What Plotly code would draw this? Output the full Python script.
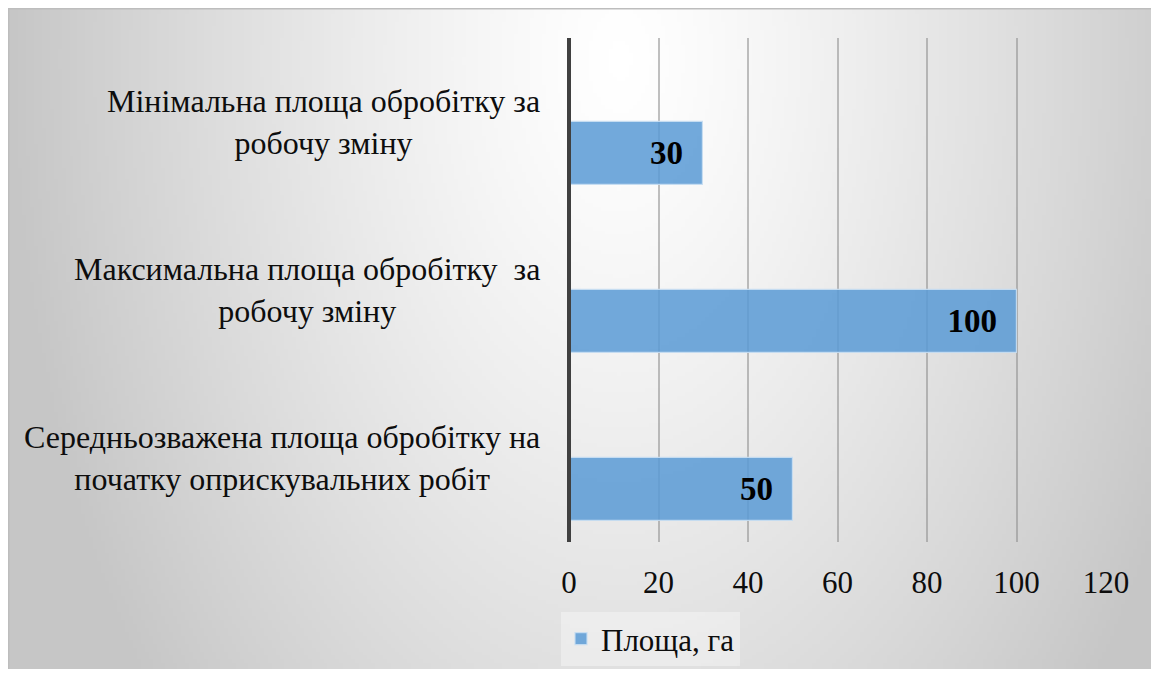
import base64, struct, zlib
import plotly.graph_objects as go

# ---- data ----
categories = [
    "Середньозважена площа обробітку на<br>початку оприскувальних робіт",
    "Максимальна площа обробітку  за<br>робочу зміну",
    "Мінімальна площа обробітку за<br>робочу зміну",
]
values = [50, 100, 30]
series_name = "Площа, га"
x_ticks = [0, 20, 40, 60, 80, 100, 120]

OFF = 8  # page body margin
W, H = 1159 - 2 * OFF, 677 - 2 * OFF
L, R, T, B = 569 - OFF, 1106 - OFF, 38 - OFF, 542 - OFF  # plot area in figure px
PW, PH = R - L, B - T

def px2x(px):
    return (px - L) / PW

def py2y(py):
    return (B - py) / PH

# ---- radial gradient background (styling only) ----
def make_png(w, h, box):
    x0, y0, x1, y1 = box
    cx, cy, A, Bv = 612.0, 52.0, 610.0, 1000.0
    raw = bytearray()
    for j in range(h):
        raw.append(0)
        py = y0 + (j + 0.5) * (y1 - y0) / h
        for i in range(w):
            px = x0 + (i + 0.5) * (x1 - x0) / w
            d = (((px - cx) / A) ** 2 + ((py - cy) / Bv) ** 2) ** 0.5
            d = min(d, 1.0)
            v = int(round(255 - 57 * d ** 1.25))
            raw += bytes((v, v, v))
    def chunk(t, data):
        c = struct.pack(">I", len(data)) + t + data
        return c + struct.pack(">I", zlib.crc32(t + data) & 0xffffffff)
    png = b"\x89PNG\r\n\x1a\n"
    png += chunk(b"IHDR", struct.pack(">IIBBBBB", w, h, 8, 2, 0, 0, 0))
    png += chunk(b"IDAT", zlib.compress(bytes(raw), 9))
    png += chunk(b"IEND", b"")
    return "data:image/png;base64," + base64.b64encode(png).decode()

box = (0, 0, W, H)
bg = make_png(288, 168, box)

font_family = "Liberation Serif"

fig = go.Figure()
fig.add_trace(go.Bar(
    x=values, y=categories, orientation="h", name=series_name,
    width=0.375, offset=-0.375,
    marker=dict(color="rgba(91,155,213,0.86)",
                line=dict(color="rgba(200,222,242,0.9)", width=1.2)),
    text=[f"<b>{v}</b>&nbsp;&nbsp;" for v in values],
    textposition="inside", insidetextanchor="end", textangle=0,
    constraintext="none",
    textfont=dict(family=font_family, size=33, color="#000000"),
    hoverinfo="x",
))

# category labels as centered multi-line annotations
for c in categories:
    fig.add_annotation(
        x=0, xref="paper", xanchor="right", xshift=-27,
        y=c, yref="y", yanchor="middle",
        text=c, showarrow=False, align="center",
        font=dict(family=font_family, size=32, color="#0d0d0d"),
    )

fig.add_layout_image(
    source=bg, xref="paper", yref="paper",
    x=px2x(box[0]), y=py2y(box[1]),
    sizex=px2x(box[2]) - px2x(box[0]), sizey=py2y(box[1]) - py2y(box[3]),
    xanchor="left", yanchor="top", sizing="stretch", layer="below",
)
# thin frame on top and left
fig.add_shape(type="line", xref="paper", yref="paper",
              x0=px2x(0), x1=px2x(W), y0=py2y(0.75), y1=py2y(0.75),
              line=dict(color="#bdbdbd", width=1.5))
fig.add_shape(type="line", xref="paper", yref="paper",
              x0=px2x(0.75), x1=px2x(0.75), y0=py2y(0), y1=py2y(H),
              line=dict(color="#bdbdbd", width=1.5))
# y axis line at x=0
fig.add_shape(type="line", xref="paper", yref="paper", x0=0, x1=0, y0=0, y1=1,
              line=dict(color="#404040", width=4), layer="above")

fig.update_layout(
    width=W, height=H,
    margin=dict(l=L, r=W - R, t=T, b=H - B, pad=0, autoexpand=False),
    paper_bgcolor="#ffffff", plot_bgcolor="rgba(0,0,0,0)",
    font=dict(family=font_family, size=30, color="#0d0d0d"),
    showlegend=True,
    legend=dict(
        xref="container", yref="container",
        x=(561 - OFF) / W, y=1 - (612 - OFF) / H, xanchor="left", yanchor="top",
        orientation="h", bgcolor="rgba(255,255,255,0.35)",
        font=dict(family=font_family, size=31, color="#0d0d0d"),
        itemwidth=30, tracegroupgap=0,
    ),
    bargap=0,
)
fig.update_xaxes(
    range=[0, 120], tickvals=x_ticks, ticktext=[str(t) for t in x_ticks],
    showgrid=True, gridcolor="rgba(140,140,140,0.55)", gridwidth=1.5,
    zeroline=False, showline=False, ticks="", ticklabelstandoff=19,
    tickfont=dict(family=font_family, size=31, color="#0d0d0d"),
    fixedrange=True, automargin=False,
)
fig.update_yaxes(
    type="category", categoryorder="array", categoryarray=categories,
    range=[-0.5, 2.5], showticklabels=False, showgrid=False,
    zeroline=False, showline=False, ticks="", fixedrange=True, automargin=False,
)

fig.write_html("out.html")
